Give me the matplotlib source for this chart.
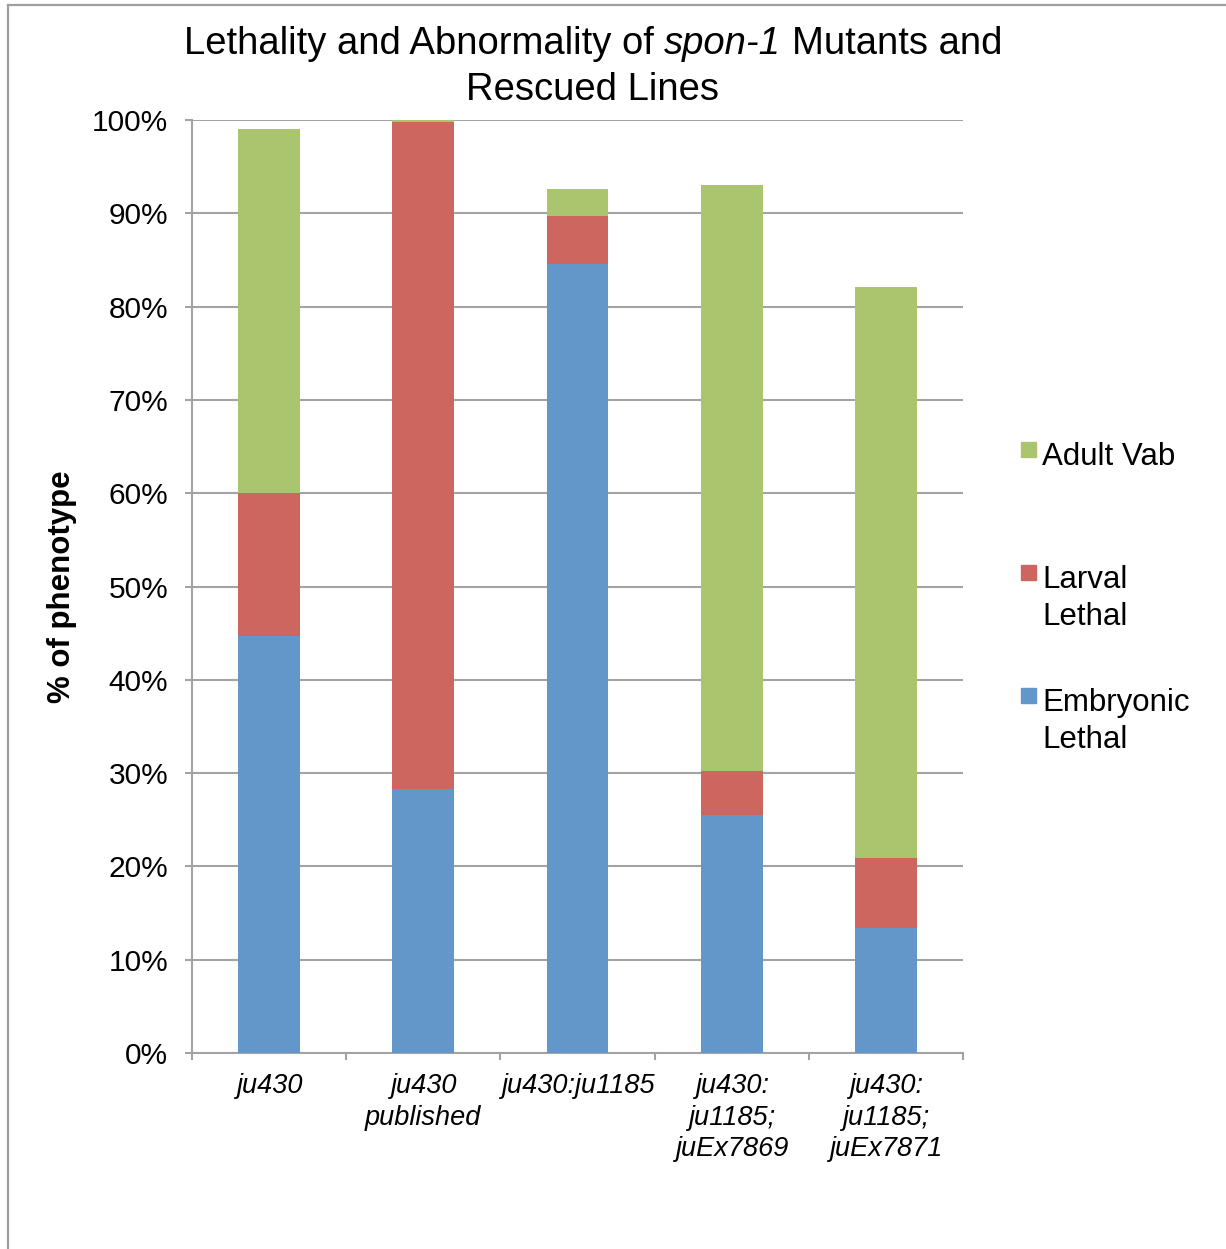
import matplotlib
matplotlib.use("Agg")
import matplotlib.pyplot as plt
import numpy as np
from matplotlib.lines import Line2D
from matplotlib.patches import Rectangle
from matplotlib.ticker import FixedLocator, PercentFormatter

plt.rcParams['font.family'] = ['Liberation Sans', 'DejaVu Sans']

# Strains tested (tick labels, italic)
strains = ["ju430", "ju430\npublished", "ju430:ju1185",
           "ju430:\nju1185;\njuEx7869", "ju430:\nju1185;\njuEx7871"]

# Percent of animals in each phenotype class
embryonic_lethal = [44.7, 28.3, 84.6, 25.5, 13.4]
larval_lethal = [15.3, 71.5, 5.1, 4.7, 7.5]
adult_vab = [39.0, 0.2, 2.9, 62.8, 61.2]

series_names = ["Embryonic\nLethal", "Larval\nLethal", "Adult Vab"]
colors = ["#6396C9", "#CD665E", "#ABC46E"]

grid_gray = "#A3A3A3"
W, H = 1226, 1249

fig = plt.figure(figsize=(W / 100, H / 100), dpi=100)
ax = fig.add_axes([192 / W, 1 - 1053 / H, 771 / W, 933 / H])

x = np.arange(len(strains))
bottom = np.zeros(len(strains))
for vals, col in zip([embryonic_lethal, larval_lethal, adult_vab], colors):
    ax.bar(x, vals, width=0.4, bottom=bottom, color=col, zorder=3)
    bottom += np.array(vals)

ax.set_xlim(-0.5, len(strains) - 0.5)
ax.set_ylim(0, 100)

ax.yaxis.set_major_locator(FixedLocator(np.arange(0, 101, 10)))
ax.yaxis.set_major_formatter(PercentFormatter(decimals=0))
ax.grid(axis='y', color=grid_gray, linewidth=1.5, zorder=0)
ax.tick_params(axis='y', length=5, width=1.5, color=grid_gray, pad=12,
               labelsize=21.5, labelcolor='black')

ax.set_xticks(x)
ax.set_xticklabels(strains, fontstyle='italic', fontsize=19.5, linespacing=1.27)
ax.tick_params(axis='x', which='major', length=0, pad=14.5)
ax.xaxis.set_minor_locator(FixedLocator(np.arange(-0.5, len(strains), 1.0)))
ax.tick_params(axis='x', which='minor', length=5, width=1.5, color=grid_gray)

for side in ['top', 'right']:
    ax.spines[side].set_visible(False)
for side in ['left', 'bottom']:
    ax.spines[side].set_color(grid_gray)
    ax.spines[side].set_linewidth(1.5)

ax.set_ylabel("% of phenotype", fontsize=22.5, fontweight='bold')
ax.yaxis.set_label_coords((77 - 192) / 771, 0.5)

# Title: first line mixes upright and italic (gene name) pieces
renderer = fig.canvas.get_renderer()
title_size = 27.5


def text_width(s, **kw):
    t = fig.text(0, 0, s, fontsize=title_size, **kw)
    w = t.get_window_extent(renderer).width
    t.remove()
    return w


pieces = [("Lethality and Abnormality of", 'normal'),
          ("spon-1", 'italic'),
          ("Mutants and", 'normal')]
space_w = text_width("a a") - text_width("aa")
widths = [text_width(s, fontstyle=st) for s, st in pieces]
total = sum(widths) + space_w * (len(pieces) - 1)
xpos = 593 - total / 2
for (s, st), w in zip(pieces, widths):
    fig.text(xpos / W, 1 - 44 / H, s, fontsize=title_size, fontstyle=st,
             ha='left', va='center')
    xpos += w + space_w
fig.text(593 / W, 1 - 90 / H, "Rescued Lines",
         ha='center', va='center', fontsize=title_size)

# Legend, listed top to bottom in reverse stacking order
legend_rows = [(465, 2), (588, 1), (711, 0)]   # first-line baseline (px)
for base, idx in legend_rows:
    fig.patches.append(Rectangle((1021 / W, 1 - (base - 8) / H),
                                 15 / W, 15 / H,
                                 transform=fig.transFigure,
                                 color=colors[idx]))
    for k, line in enumerate(series_names[idx].split("\n")):
        fig.text(1042 / W, 1 - (base + 37 * k) / H, line,
                 ha='left', va='baseline', fontsize=22.5)

# Outer frame lines along the top and left edges
fig.add_artist(Line2D([7.5 / W, 1], [1 - 4.5 / H, 1 - 4.5 / H],
                      transform=fig.transFigure, color="#9E9E9E", linewidth=1.6))
fig.add_artist(Line2D([7.5 / W, 7.5 / W], [0, 1 - 4.5 / H],
                      transform=fig.transFigure, color="#9E9E9E", linewidth=1.6))

fig.savefig("out.png", dpi=100, facecolor='white')
